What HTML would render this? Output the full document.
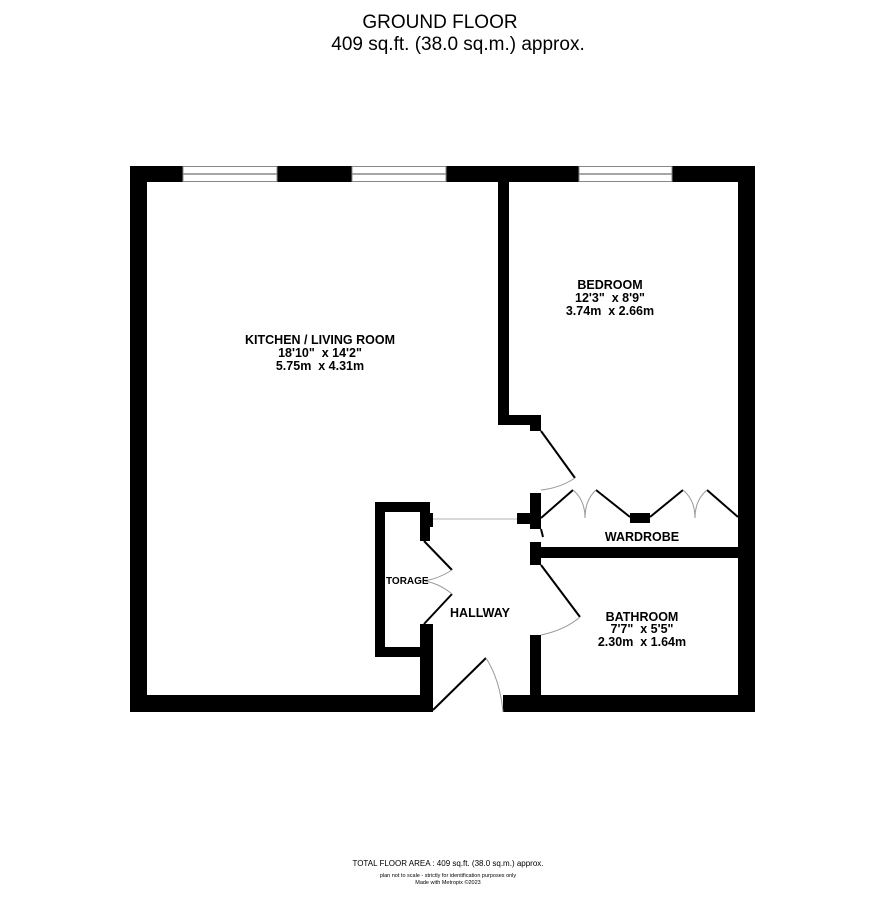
<!DOCTYPE html>
<html><head><meta charset="utf-8"><style>
html,body{margin:0;padding:0;background:#fff;}
svg{display:block;}
text{font-family:"Liberation Sans",Arial,sans-serif;fill:#000;white-space:pre;}
.b{font-weight:bold;font-size:12.5px;}
</style></head><body>
<svg width="886" height="914" viewBox="0 0 886 914" xmlns="http://www.w3.org/2000/svg" xml:space="preserve">
<rect width="886" height="914" fill="#fff"/>
<text x="440" y="28" font-size="19" text-anchor="middle">GROUND FLOOR</text>
<text x="458" y="50" font-size="19" text-anchor="middle">409 sq.ft. (38.0 sq.m.) approx.</text>

<g fill="#000">
<rect x="130" y="166" width="625" height="16"/>
<rect x="130" y="166" width="17" height="546"/>
<rect x="738" y="166" width="17" height="546"/>
<rect x="130" y="695" width="303" height="17"/>
<rect x="503" y="695" width="252" height="17"/>
<rect x="498" y="182" width="11" height="243"/>
<rect x="498" y="415" width="43" height="10"/>
<rect x="530" y="415" width="11" height="16"/>
<rect x="530" y="493" width="11" height="36"/>
<rect x="517" y="513" width="13" height="11"/>
<rect x="530" y="542" width="11" height="23"/>
<rect x="541" y="547" width="197" height="11"/>
<rect x="530" y="635" width="11" height="77"/>
<rect x="375" y="502" width="10" height="155"/>
<rect x="375" y="502" width="55" height="10"/>
<rect x="420" y="502" width="10" height="39"/>
<rect x="430" y="513" width="3" height="14"/>
<rect x="375" y="647" width="55" height="10"/>
<rect x="420" y="624" width="13" height="88"/>
<rect x="630" y="513" width="20" height="10"/>
</g>

<g fill="#fff" stroke="#888" stroke-width="1">
<rect x="183" y="166.5" width="94" height="15"/>
<rect x="352" y="166.5" width="94" height="15"/>
<rect x="579" y="166.5" width="93" height="15"/>
</g>
<g stroke="#888" stroke-width="1.5">
<line x1="183" y1="174" x2="277" y2="174"/>
<line x1="352" y1="174" x2="446" y2="174"/>
<line x1="579" y1="174" x2="672" y2="174"/>
</g>

<line x1="433" y1="519" x2="517" y2="519" stroke="#ccc" stroke-width="1.5"/>

<g stroke="#000" stroke-width="2" fill="none">
<line x1="541" y1="431" x2="575" y2="478"/>
<line x1="541" y1="518" x2="573" y2="490"/>
<line x1="596" y1="490" x2="630" y2="517"/>
<line x1="650" y1="517" x2="683" y2="490"/>
<line x1="707" y1="490" x2="738" y2="517"/>
<line x1="541" y1="565" x2="580" y2="617"/>
<line x1="424" y1="541" x2="452" y2="570"/>
<line x1="424" y1="624" x2="452" y2="594"/>
<line x1="433" y1="710" x2="486" y2="658"/>
<line x1="541" y1="529" x2="543" y2="537"/>
</g>
<g stroke="#999" stroke-width="1" fill="none">
<path d="M575 478 Q560 488 541 490"/>
<path d="M573 490 Q585 500 585 518"/>
<path d="M596 490 Q585 500 585 518"/>
<path d="M683 490 Q695 500 695 518"/>
<path d="M707 490 Q695 500 695 518"/>
<path d="M580 617 Q565 630 541 635"/>
<path d="M452 570 Q440 578 425 581"/>
<path d="M452 594 Q440 584 425 581"/>
<path d="M486 658 Q500 680 503 712"/>
</g>

<text class="b" x="320" y="344" text-anchor="middle">KITCHEN / LIVING ROOM</text>
<text class="b" x="320" y="357" text-anchor="middle">18'10"  x 14'2"</text>
<text class="b" x="320" y="370" text-anchor="middle">5.75m  x 4.31m</text>
<text class="b" x="610" y="289" text-anchor="middle">BEDROOM</text>
<text class="b" x="610" y="302" text-anchor="middle">12'3"  x 8'9"</text>
<text class="b" x="610" y="315" text-anchor="middle">3.74m  x 2.66m</text>
<text class="b" x="642" y="541" text-anchor="middle">WARDROBE</text>
<text class="b" x="642" y="621" text-anchor="middle">BATHROOM</text>
<text class="b" x="642" y="633" text-anchor="middle">7'7"  x 5'5"</text>
<text class="b" x="642" y="646" text-anchor="middle">2.30m  x 1.64m</text>
<text class="b" x="480" y="617" text-anchor="middle">HALLWAY</text>
<text x="386" y="584" font-size="10" font-weight="bold">TORAGE</text>

<text x="448" y="866" font-size="8" text-anchor="middle">TOTAL FLOOR AREA : 409 sq.ft. (38.0 sq.m.) approx.</text>
<text x="448" y="877" font-size="5.5" text-anchor="middle">plan not to scale - strictly for identification purposes only</text>
<text x="448" y="884" font-size="5.5" text-anchor="middle">Made with Metropix ©2023</text>
</svg>
</body></html>
